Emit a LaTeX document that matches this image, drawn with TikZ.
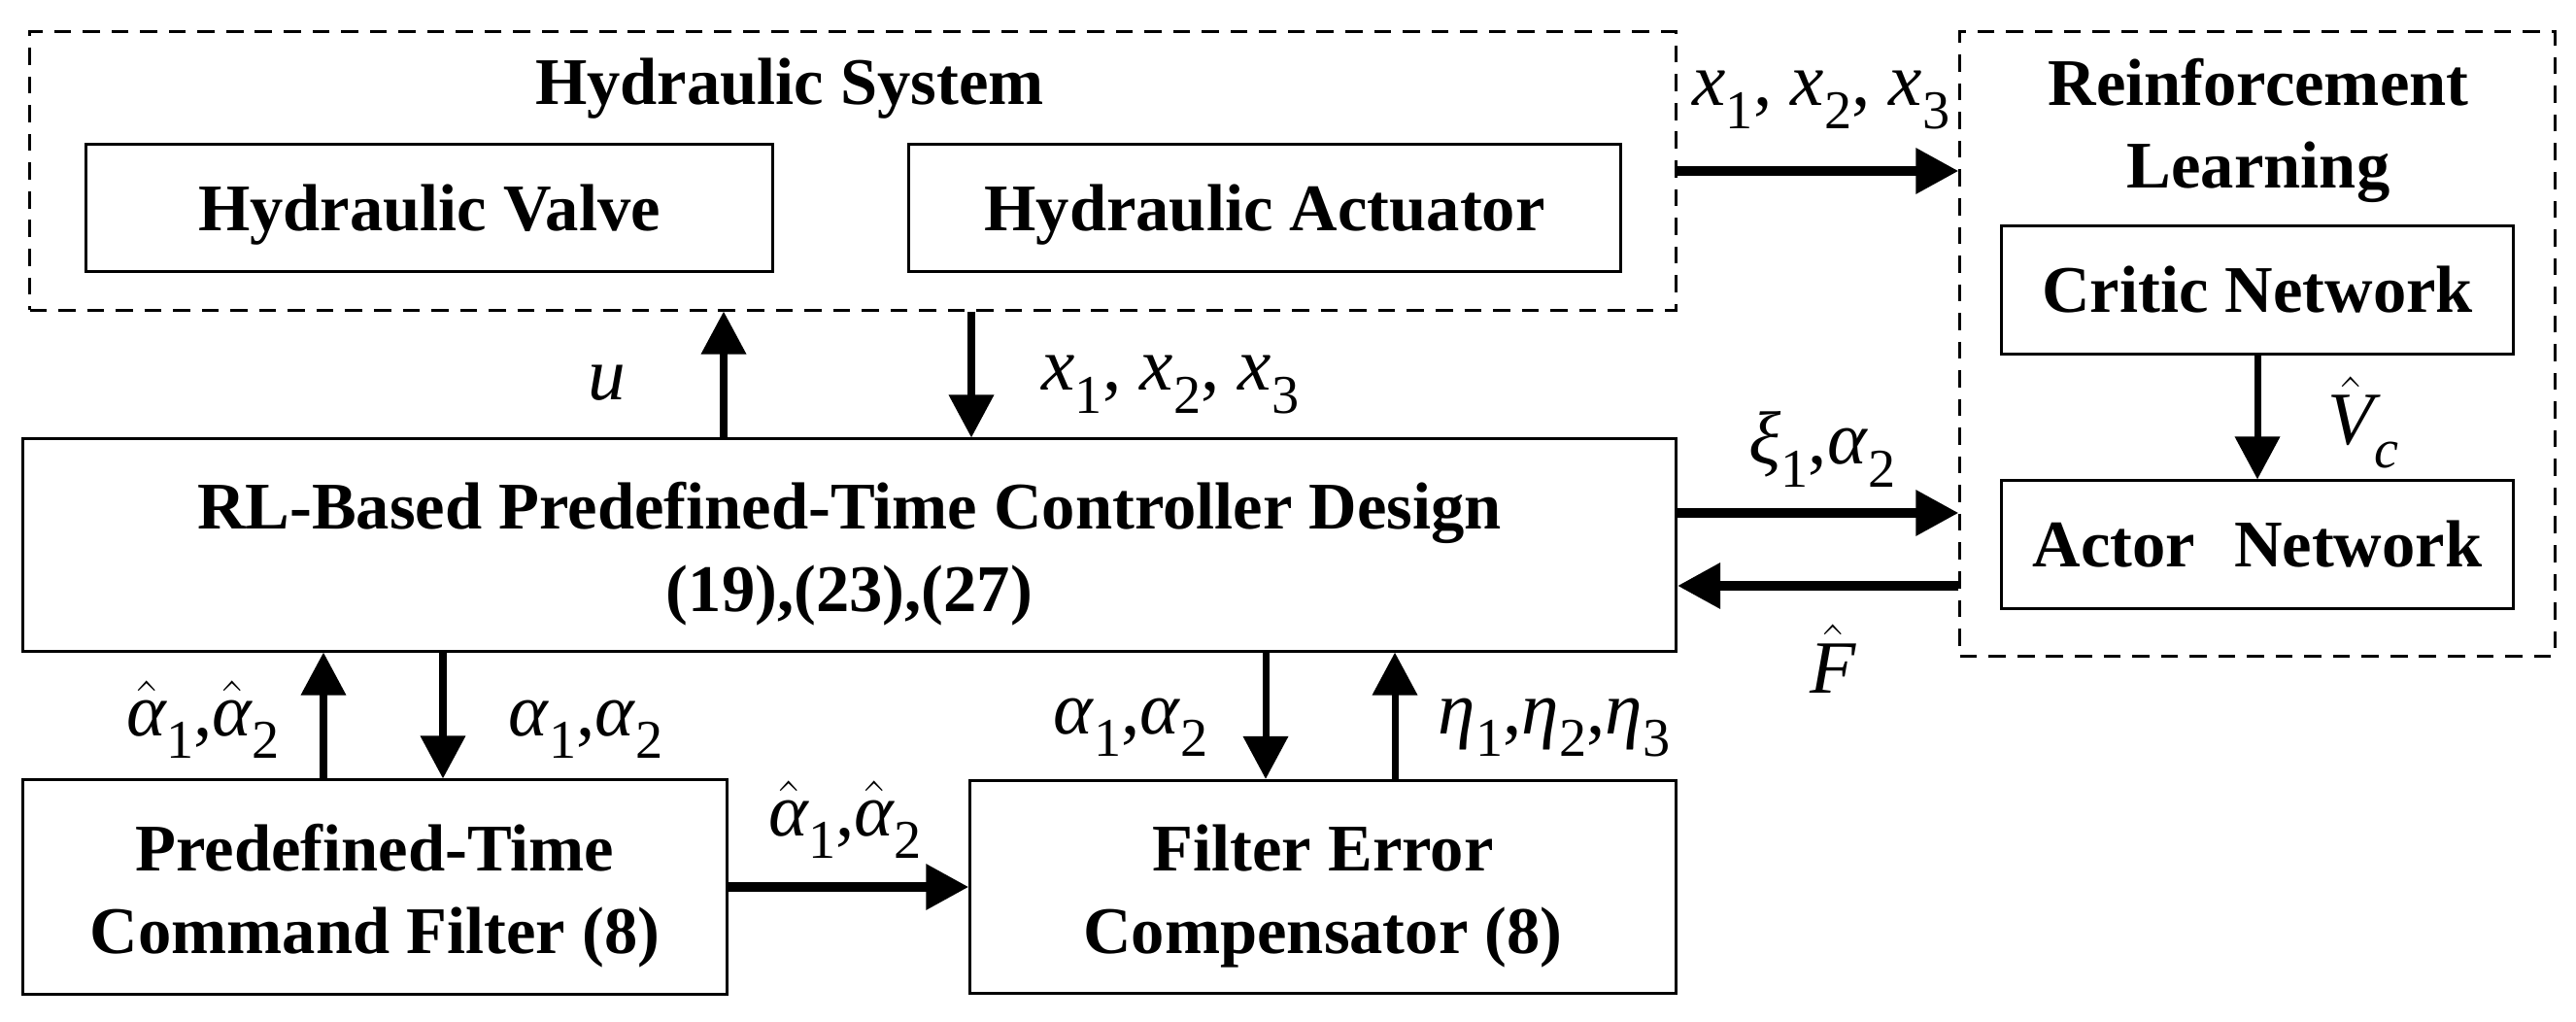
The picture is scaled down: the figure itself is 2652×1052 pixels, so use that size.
\documentclass[tikz,border=0pt]{standalone}
\usepackage{fontspec}
\setmainfont{Liberation Serif}
\usetikzlibrary{arrows.meta}
\newcommand{\vi}[1]{\textit{#1}}
\newcommand{\sbs}[1]{\raisebox{-0.3em}{\fontsize{16}{18}\selectfont #1}}
\newcommand{\hv}[1]{$\hat{\hbox{\itshape #1}}$}
\newcommand{\topstrut}{\rule{0pt}{0.67cm}}
\begin{document}
\begin{tikzpicture}[x=0.01cm,y=-0.01cm,
  box/.style={draw, line width=0.85pt, inner sep=0pt},
  dbox/.style={draw, line width=0.85pt, dash pattern=on 5pt off 3.4pt, inner sep=0pt},
  txt/.style={font=\fontsize{19.5}{24.2}\selectfont\bfseries, align=center},
  arr/.style={-{Triangle[length=0.44cm,width=0.45cm]}, line width=2pt},
  harr/.style={arr, line width=2.7pt},
  lab/.style={font=\fontsize{22}{26}\selectfont, anchor=base, inner sep=0pt}]
\useasboundingbox (0,0) rectangle (2652,1052);
% Hydraulic system
\node[dbox, minimum width=16.94cm, minimum height=2.86cm] (hyd) at (878,176) {};
\node[txt, anchor=base, inner sep=0pt] (hydt) at (813,108) {Hydraulic System};
\node[box, txt, text depth=0pt, minimum width=7.06cm, minimum height=1.30cm] (valve) at (442,214) {Hydraulic Valve};
\node[box, txt, text depth=0pt, minimum width=7.32cm, minimum height=1.30cm] (act) at (1302,214) {Hydraulic Actuator};
% Reinforcement learning
\node[dbox, minimum width=6.12cm, minimum height=6.42cm] (rl) at (2324,354) {};
\node[txt, anchor=base, inner sep=0pt] (rlt1) at (2325,109) {Reinforcement};
\node[txt, anchor=base, inner sep=0pt] (rlt2) at (2325,194) {Learning};
\node[box, txt, minimum width=5.26cm, minimum height=1.31cm] (critic) at (2324,298.5) {Critic Network};
\node[box, txt, minimum width=5.26cm, minimum height=1.31cm] (actor) at (2324,560.5) {Actor\hspace{0.4cm}Network};
% Controller
\node[box, txt, minimum width=17.01cm, minimum height=2.18cm] (ctrl) at (874.5,561) {\topstrut RL-Based Predefined-Time Controller Design\\(19),(23),(27)};
\node[box, txt, minimum width=7.24cm, minimum height=2.20cm] (cmd) at (386,913) {\topstrut Predefined-Time\\Command Filter (8)};
\node[box, txt, minimum width=7.26cm, minimum height=2.19cm] (fec) at (1362,913) {\topstrut Filter Error\\Compensator (8)};
% x positions
\coordinate (xu) at (745,0);
\coordinate (xd) at (1000,0);
\coordinate (xa) at (333,0);
\coordinate (xb) at (456,0);
\coordinate (xc) at (1303,0);
\coordinate (xe) at (1436,0);
\coordinate (ya) at (0,176);
\coordinate (yb) at (0,528);
\coordinate (yc) at (0,603);
% connectors
\draw[arr] (ctrl.north -| xu) -- (hyd.south -| xu);
\draw[arr] (hyd.south -| xd) -- (ctrl.north -| xd);
\draw[harr] (hyd.east |- ya) -- (rl.west |- ya);
\draw[harr] (ctrl.east |- yb) -- (rl.west |- yb);
\draw[harr] (rl.west |- yc) -- (ctrl.east |- yc);
\draw[arr] (critic.south) -- (actor.north);
\draw[arr] (cmd.north -| xa) -- (ctrl.south -| xa);
\draw[arr] (ctrl.south -| xb) -- (cmd.north -| xb);
\draw[arr] (ctrl.south -| xc) -- (fec.north -| xc);
\draw[arr] (fec.north -| xe) -- (ctrl.south -| xe);
\draw[harr] (cmd.east) -- (fec.west);
% labels
\node[lab] (lu) at (625,412) {\vi{u}};
\node[lab] (lx1) at (1205,402) {\vi{x}\sbs{1}, \vi{x}\sbs{2}, \vi{x}\sbs{3}};
\node[lab] (lx2) at (1875,109) {\vi{x}\sbs{1}, \vi{x}\sbs{2}, \vi{x}\sbs{3}};
\node[lab] (lxi) at (1876,478) {\vi{ξ}\sbs{1},\vi{α}\sbs{2}};
\node[lab] (lF) at (1887,713) {\hv{F}};
\node[lab] (lV) at (2433,458) {\hv{V}\sbs{\vi{c}}};
\node[lab] (la1) at (209,757) {\hv{α}\sbs{1},\hv{α}\sbs{2}};
\node[lab] (la2) at (603,757) {\vi{α}\sbs{1},\vi{α}\sbs{2}};
\node[lab] (la3) at (1164,755) {\vi{α}\sbs{1},\vi{α}\sbs{2}};
\node[lab] (leta) at (1600,755) {\vi{η}\sbs{1},\vi{η}\sbs{2},\vi{η}\sbs{3}};
\node[lab] (la4) at (870,860) {\hv{α}\sbs{1},\hv{α}\sbs{2}};
\end{tikzpicture}
\end{document}
